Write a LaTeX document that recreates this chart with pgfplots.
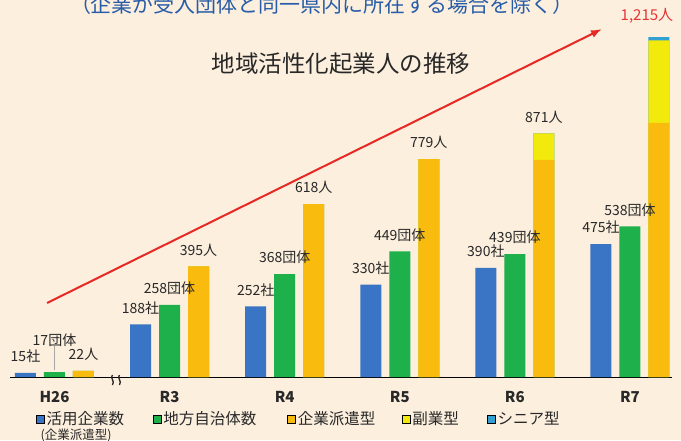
\documentclass[border=0pt]{standalone}
\usepackage{pgfplots}
\pgfplotsset{compat=1.18}
\usepackage{pgfplotstable}
\usepackage{fontspec}
\setmainfont{Noto Sans CJK JP}
\usetikzlibrary{arrows.meta}
\definecolor{bg}{RGB}{252,239,222}
\definecolor{cblue}{RGB}{58,116,196}
\definecolor{cgreen}{RGB}{30,176,74}
\definecolor{corange}{RGB}{249,188,14}
\definecolor{cyellow}{RGB}{242,234,12}
\definecolor{ccyan}{RGB}{50,160,210}
\definecolor{lab}{RGB}{40,40,40}
\definecolor{redlab}{RGB}{228,52,52}
\definecolor{arrowred}{RGB}{232,40,36}
\definecolor{topblue}{RGB}{40,92,168}
\definecolor{baseline}{RGB}{190,185,180}

\pgfplotstableread{
x blue green orange yellow cyan blab glab tlab
0 15 17 22 0 0 15社 {} 22人
1 188 258 395 0 0 188社 258団体 395人
2 252 368 618 0 0 252社 368団体 618人
3 330 449 779 0 0 330社 449団体 779人
4 390 439 776 95 0 390社 439団体 871人
5 475 538 908 295 12 475社 538団体 {}
}\datatab

\begin{document}
\begin{tikzpicture}
\useasboundingbox (0,0) rectangle (681pt,440pt);
\fill[bg] (0,0) rectangle (681pt,440pt);
\clip (0,0) rectangle (681pt,440pt);
\node[anchor=base, text=topblue, font=\fontsize{21}{25}\selectfont, inner sep=0pt] at (322pt,427pt) {（企業が受入団体と同一県内に所在する場合を除く）};
\node[text=lab, font=\fontsize{23.5}{28}\selectfont, inner sep=0pt] at (341pt,376pt) {地域活性化起業人の推移};
\begin{axis}[
  at={(8pt,63pt)}, anchor=south west, scale only axis,
  width=668pt, height=377pt,
  xmin=-0.404, xmax=5.4, ymin=0, ymax=1347.4,
  clip=false,
  hide y axis,
  axis line style={draw=none},
  major tick length=0pt,
  xtick={0,...,5},
  xticklabels={H26,R3,R4,R5,R6,R7},
  xticklabel style={font=\fontsize{15}{18}\selectfont\bfseries, text=lab, anchor=center, inner sep=0pt, yshift=-20pt},
  every node near coord/.style={font=\fontsize{14}{16}\selectfont, text=lab, anchor=south, inner sep=0pt, yshift=10pt},
  legend image code/.code={\fill[#1] (0pt,1.5pt) rectangle (8pt,9.5pt);},
  legend cell align=left,
  legend style={at={(0.0419,-0.0878)}, anchor=north west, draw=none, fill=none,
    legend columns=5, inner sep=0pt, font=\fontsize{15.5}{18}\selectfont, text=lab,
    cells={anchor=base west}, nodes={inner sep=1pt},
    /tikz/every odd column/.append style={column sep=1pt},
    /tikz/column 2/.style={column sep=28pt},
    /tikz/column 4/.style={column sep=30pt},
    /tikz/column 6/.style={column sep=25.5pt},
    /tikz/column 8/.style={column sep=27.5pt}},
]
\addplot[baseline, line width=0.8pt, forget plot] coordinates {(-0.387,0) (5.367,0)};
\addplot[ybar, bar width=21pt, bar shift=-29pt, fill=cblue, draw=none, forget plot,
  point meta=explicit symbolic, nodes near coords,
  every node near coord/.append style={xshift=-29pt}]
  table[x=x, y=blue, meta=blab]{\datatab};
\addplot[ybar, bar width=21pt, bar shift=0pt, fill=cgreen, draw=none, forget plot,
  point meta=explicit symbolic, nodes near coords]
  table[x=x, y=green, meta=glab]{\datatab};
\addplot[ybar, bar width=21pt, bar shift=29pt, fill=ccyan, draw=none, forget plot,
  point meta=explicit symbolic, nodes near coords,
  every node near coord/.append style={xshift=29pt}]
  table[x=x, y expr=\thisrow{orange}+\thisrow{yellow}+\thisrow{cyan}, meta=tlab]{\datatab};
\addplot[ybar, bar width=21pt, bar shift=29pt, fill=cyellow, draw=none, forget plot]
  table[x=x, y expr=\thisrow{orange}+\thisrow{yellow}]{\datatab};
\addplot[ybar, bar width=21pt, bar shift=29pt, fill=corange, draw=none, forget plot]
  table[x=x, y=orange]{\datatab};
% special labels
\addplot[draw=none, mark=none, forget plot, point meta=explicit symbolic, nodes near coords,
  every node near coord/.append style={yshift=15pt}]
  coordinates {(0,17) [17団体]};
\addplot[draw=none, mark=none, forget plot, point meta=explicit symbolic, nodes near coords,
  every node near coord/.append style={text=redlab, xshift=17pt, yshift=3pt, font=\fontsize{15}{17}\selectfont}]
  coordinates {(5,1215) [1,215人]};
\addplot[arrowred, line width=2pt, -{Latex[length=11pt,width=8pt]}, forget plot]
  coordinates {(-0.065,264.5) (4.757,1243.7)};
\draw[gray!70, line width=0.5pt] (axis cs:0,17) ++(0pt,2pt) -- ++(0pt,24pt);
\begin{scope}[shift={(axis cs:0.534,0)}]
\draw[lab, line width=1.3pt] (-3.5pt,2pt) .. controls (-6.5pt,-1pt) and (-0.5pt,-4pt) .. (-3.5pt,-8pt);
\draw[lab, line width=1.3pt] (3.5pt,2pt) .. controls (0.5pt,-1pt) and (6.5pt,-4pt) .. (3.5pt,-8pt);
\end{scope}
\addlegendimage{fill=cblue}
\addlegendentry{\begin{tabular}[t]{@{}l@{}}活用企業数\\[-3pt]\hspace*{-6pt}{\fontsize{12.5}{14}\selectfont (企業派遣型)}\end{tabular}}
\addlegendimage{fill=cgreen}
\addlegendentry{地方自治体数}
\addlegendimage{fill=corange}
\addlegendentry{企業派遣型}
\addlegendimage{fill=cyellow}
\addlegendentry{副業型}
\addlegendimage{fill=ccyan}
\addlegendentry{シニア型}
\end{axis}
\end{tikzpicture}
\end{document}
